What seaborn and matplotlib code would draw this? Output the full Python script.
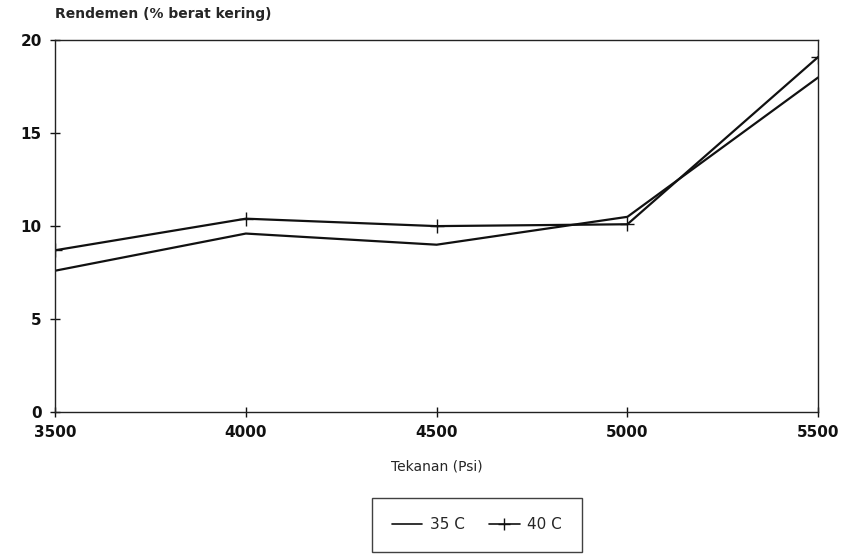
import matplotlib
matplotlib.use('Agg')
import matplotlib.pyplot as plt
from matplotlib.lines import Line2D
import seaborn as sns
import pandas as pd

# data
tekanan = [3500, 4000, 4500, 5000, 5500]
suhu_35 = [7.6, 9.6, 9.0, 10.5, 18.0]
suhu_40 = [8.7, 10.4, 10.0, 10.1, 19.1]
series_labels = ['35 C', '40 C']
x_ticks = [3500, 4000, 4500, 5000, 5500]
y_ticks = [0, 5, 10, 15, 20]

df = pd.DataFrame({
    'Tekanan': tekanan * 2,
    'Rendemen': suhu_35 + suhu_40,
    'Suhu': [series_labels[0]] * len(tekanan) + [series_labels[1]] * len(tekanan),
})

sns.set_theme(style='white')
plt.rcParams['font.family'] = ['DejaVu Sans']

fig = plt.figure(figsize=(8.47, 5.59), dpi=100, facecolor='white')
ax = fig.add_axes([0.065, 0.263, 0.901, 0.665])

sns.lineplot(data=df, x='Tekanan', y='Rendemen', hue='Suhu', style='Suhu',
             palette=['#111111', '#111111'], markers={'35 C': '', '40 C': '+'},
             dashes=False, linewidth=1.6, markersize=10, markeredgewidth=1.0,
             markeredgecolor='#111111', ax=ax, legend=False)

ax.set_xlim(3500, 5500)
ax.set_ylim(0, 20)
ax.set_xticks(x_ticks)
ax.set_yticks(y_ticks)
ax.set_xticklabels([str(t) for t in x_ticks], fontsize=11, fontweight='bold')
ax.set_yticklabels([str(t) for t in y_ticks], fontsize=11, fontweight='bold')
ax.tick_params(axis='both', direction='inout', length=7, width=1, colors='#111111',
               bottom=True, left=True, pad=6)
for s in ax.spines.values():
    s.set_visible(True)
    s.set_color('#222222')
    s.set_linewidth(1.0)

ax.set_xlabel('Tekanan (Psi)', fontsize=10, labelpad=14)
ax.set_ylabel('')
fig.text(0.065, 0.975, 'Rendemen (% berat kering)', fontsize=10, fontweight='bold',
         ha='left', va='center')

handles = [Line2D([], [], color='#111111', lw=1.2),
           Line2D([], [], color='#111111', lw=1.2, marker='+', markersize=9)]
leg = fig.legend(handles, series_labels, loc='center', bbox_to_anchor=(0.563, 0.061),
                 ncol=2, frameon=True, fancybox=False, fontsize=11, handlelength=2.0,
                 columnspacing=1.6, borderpad=1.3, handletextpad=0.5)
leg.get_frame().set_edgecolor('#111111')
leg.get_frame().set_linewidth(1.0)

plt.savefig('out.png', dpi=100, facecolor='white')
plt.close()
